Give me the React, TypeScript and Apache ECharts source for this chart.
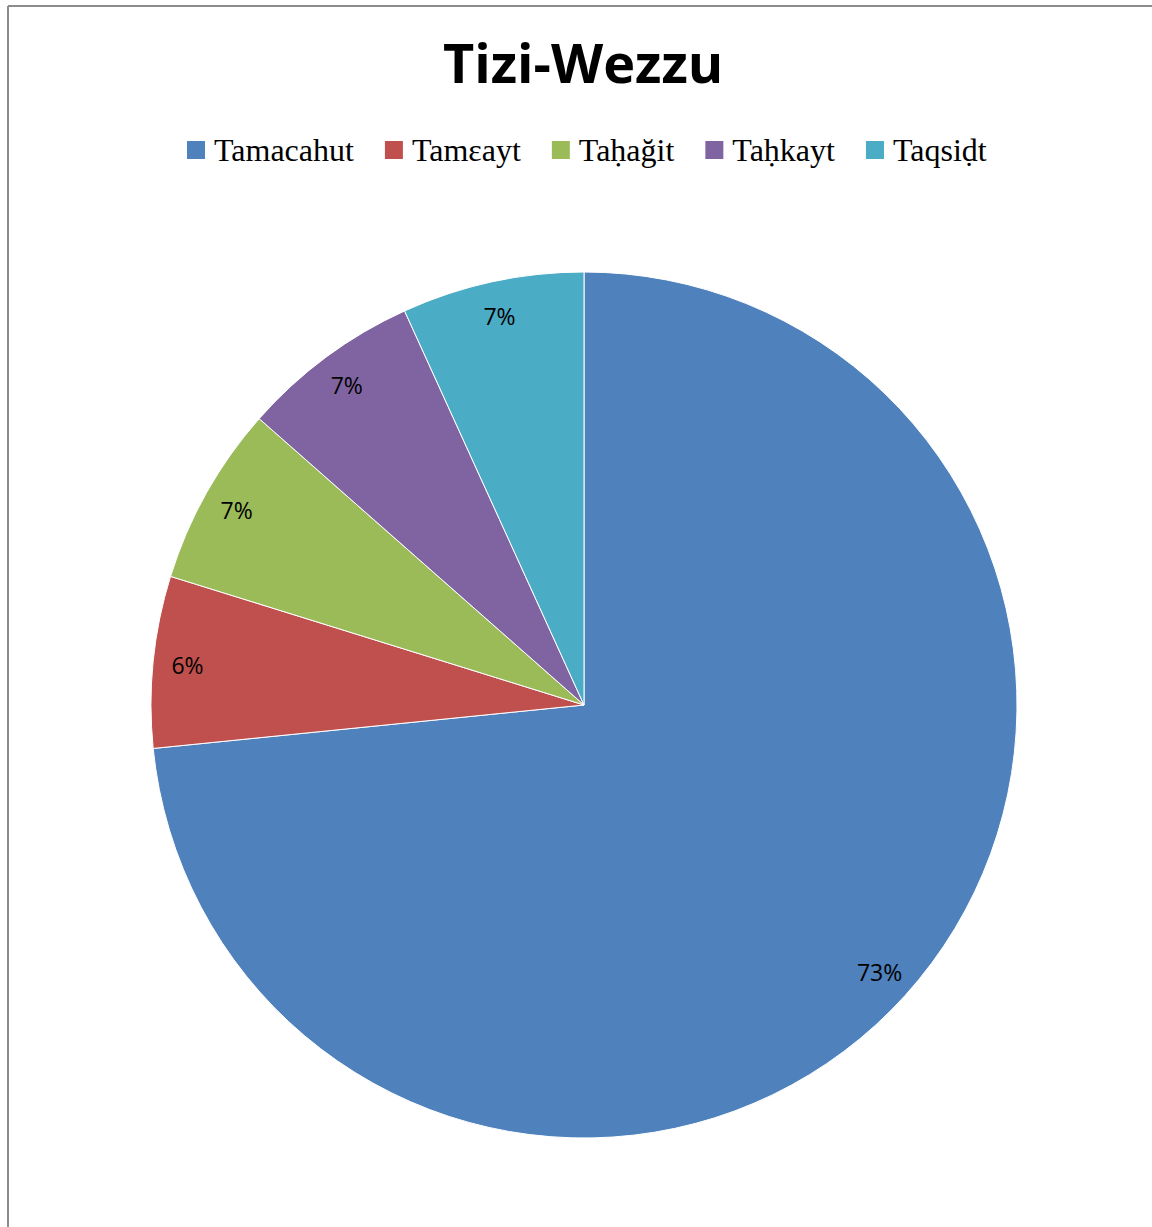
import React, { useEffect, useRef } from "react";
import * as echarts from "echarts";

const titleText = "Tizi-Wezzu";
const categories = ["Tamacahut", "Tamεayt", "Taḥağit", "Taḥkayt", "Taqsiḍt"];
const values = [73.4, 6.4, 6.7, 6.7, 6.8];
const colors = ["#4F81BD", "#C0504D", "#9BBB59", "#8064A2", "#4BACC6"];

export default function App() {
  const ref = useRef<HTMLDivElement>(null);
  useEffect(() => {
    if (!ref.current) return;
    const chart = echarts.init(ref.current, null, { renderer: "svg" });
    const data = categories.map((name, i) => ({
      name,
      value: values[i],
      itemStyle: { color: colors[i] },
    }));
    const total = values.reduce((a, b) => a + b, 0);
    chart.setOption({
      animation: false,
      backgroundColor: "#ffffff",
      title: {
        text: titleText,
        left: 438,
        top: 30,
        textStyle: {
          fontFamily: "Open Sans",
          fontWeight: "bold",
          fontSize: 54,
          color: "#000000",
        },
      },
      legend: {
        data: categories,
        left: 180,
        top: 129,
        icon: "rect",
        itemWidth: 20,
        itemHeight: 20,
        itemGap: 29,
        textStyle: {
          fontFamily: "Liberation Serif",
          fontSize: 32,
          color: "#000000",
          padding: [0, 0, 0, 3],
        },
      },
      graphic: [
        { type: "line", shape: { x1: 8, y1: 6, x2: 1152, y2: 6 }, style: { stroke: "#8c8c8c", lineWidth: 2 } },
        { type: "line", shape: { x1: 8, y1: 6, x2: 8, y2: 1227 }, style: { stroke: "#8c8c8c", lineWidth: 2 } },
      ],
      series: [
        {
          type: "pie",
          center: [584, 705],
          radius: [0, 433],
          startAngle: 90,
          clockwise: true,
          data,
          label: { show: false },
          labelLine: { show: false },
          itemStyle: { borderColor: "#ffffff", borderWidth: 1 },
          silent: true,
        },
        {
          type: "pie",
          center: [584, 705],
          radius: [358, 433],
          startAngle: 90,
          clockwise: true,
          data: categories.map((name, i) => ({
            name,
            value: values[i],
            itemStyle: { color: "rgba(0,0,0,0)" },
          })),
          label: {
            show: true,
            position: "inside",
            fontFamily: "Open Sans",
            fontSize: 23,
            color: "#000000",
            formatter: (p: any) => Math.round((p.value / total) * 100) + "%",
          },
          labelLine: { show: false },
          silent: true,
          legendHoverLink: false,
        },
      ],
    });
    return () => chart.dispose();
  }, []);
  return (
    <div
      ref={ref}
      style={{ position: "absolute", left: 0, top: 0, width: 1152, height: 1227 }}
    />
  );
}
